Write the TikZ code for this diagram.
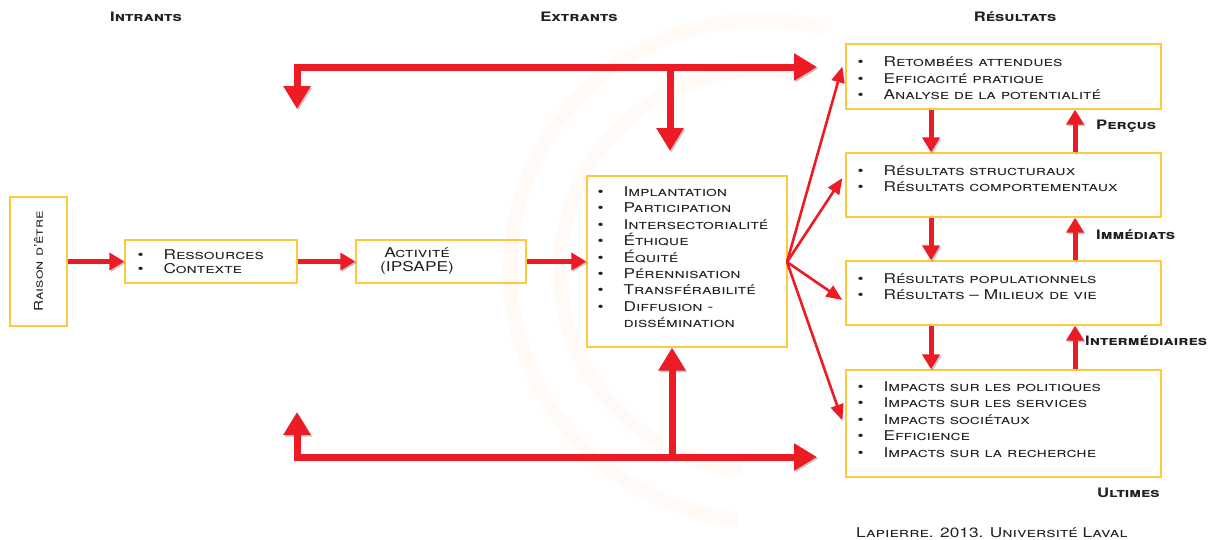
\documentclass[tikz,border=0pt]{standalone}
\usepackage{fontspec}
\setmainfont{TeX Gyre Heros}[FakeStretch=1.28]
\usepackage{tikz}
\usetikzlibrary{calc}
\usetikzlibrary{arrows.meta,positioning}

\definecolor{arrowred}{HTML}{ED1C24}
\definecolor{boxgold}{HTML}{FFC93C}
\definecolor{inkgray}{HTML}{231F20}
\definecolor{swirl}{HTML}{F7941D}
\newcommand{\blt}{\makebox[26pt][l]{\textbullet}}

\begin{document}
\begin{tikzpicture}[x=1pt, y=-1pt, >=Triangle, text=inkgray]
      \tikzstyle{box}=[draw=boxgold, line width=1.3pt, rectangle, inner sep=0pt]
      \tikzstyle{listtext}=[align=left, inner sep=0pt, font=\fontsize{13.5}{16.4}\selectfont\scshape]
      \tikzstyle{head}=[inner sep=0pt, font=\fontsize{13}{15}\selectfont\bfseries\scshape]
      \tikzstyle{shadowed}=[preaction={draw=black, opacity=0.22, transform canvas={shift={(1.5pt,-1.5pt)}}}]
      \tikzstyle{bigarrow}=[draw=arrowred, line width=7pt, -{Triangle[length=23pt,width=26pt]}, shadowed]
      \tikzstyle{midarrow}=[draw=arrowred, line width=5pt, -{Triangle[length=15pt,width=17pt]}, shadowed]
      \tikzstyle{fanarrow}=[draw=arrowred, line width=2.6pt, -{Triangle[length=16pt,width=13pt]}]
      \useasboundingbox (0,0) rectangle (1217,539);

      % filigrane
      \foreach \r in {200,250}
        \draw[swirl, opacity=0.045, line width=14pt] (760,270) ++(285:\r) arc[start angle=285, end angle=95, radius=\r];

      % colonnes
      \node[head] (intrants) at (146,17) {Intrants};
      \node[head] (extrants) at (579,17) {Extrants};
      \node[head] (resultats) at (1015,17) {Résultats};

      % chaine de gauche
      \node[box, minimum width=57pt, minimum height=129pt] (raison) at (38.5,261.5)
            {\rotatebox{90}{\fontsize{12}{14}\selectfont\scshape Raison d'être}};
      \node[box, minimum width=172pt, minimum height=43pt] (ressources) at (211,261.5) {};
      \node[listtext, anchor=north west, font=\fontsize{13.5}{14}\selectfont\scshape]
            (ressourcestext) at ($(ressources.north west)+(13,10)$) {\blt Ressources\\ \blt Contexte};
      \node[box, minimum width=170pt, minimum height=43pt] (activite) at (441,261.5) {};
      \node[align=center, inner sep=0pt, font=\fontsize{13.5}{14}\selectfont\scshape]
            (activitetext) at ($(activite.center)+(-24,0)$) {Activité\\(IPSAPE)};
      \node[box, minimum width=200pt, minimum height=171pt] (liste) at (687,261.5) {};
      \node[listtext, anchor=north west] (listetext) at ($(liste.north west)+(11,11)$)
            {\blt Implantation\\ \blt Participation\\ \blt Intersectorialité\\ \blt Éthique\\
             \blt Équité\\ \blt Pérennisation\\ \blt Transférabilité\\ \blt Diffusion -\\
             \hspace*{26pt}dissémination};

      % resultats
      \node[box, minimum width=315pt, minimum height=65pt] (R1) at (1003.5,76.5) {};
      \node[box, minimum width=315pt, minimum height=64pt] (R2) at (1003.5,185) {};
      \node[box, minimum width=315pt, minimum height=64pt] (R3) at (1003.5,293) {};
      \node[box, minimum width=315pt, minimum height=107pt] (R4) at (1003.5,423.5) {};
      \node[listtext, anchor=north west] (T1) at ($(R1.north west)+(12,13.5)$)
            {\blt Retombées attendues\\ \blt Efficacité pratique\\ \blt Analyse de la potentialité};
      \node[listtext, anchor=north west] (T2) at ($(R2.north west)+(12,13)$)
            {\blt Résultats structuraux\\ \blt Résultats comportementaux};
      \node[listtext, anchor=north west] (T3) at ($(R3.north west)+(12,13)$)
            {\blt Résultats populationnels\\ \blt Résultats -- Milieux de vie};
      \node[listtext, anchor=north west] (T4) at ($(R4.north west)+(12,12)$)
            {\blt Impacts sur les politiques\\ \blt Impacts sur les services\\ \blt Impacts sociétaux\\
             \blt Efficience\\ \blt Impacts sur la recherche};

      \node[head, anchor=west] (percus) at (1096,126) {Perçus};
      \node[head, anchor=west] (immediats) at (1096,235) {Immédiats};
      \node[head, anchor=west] (intermediaires) at (1085,341) {Intermédiaires};
      \node[head, anchor=west] (ultimes) at (1097,493) {Ultimes};
      \node[inner sep=0pt, anchor=west, font=\fontsize{13.5}{15}\selectfont\scshape]
            (source) at (856,533) {Lapierre. 2013. Université Laval};

      % boucles du haut et du bas
      \coordinate (topleft) at (297,67);
      \coordinate (topdrop) at (297,109);
      \coordinate (topend) at (817,67);
      \coordinate (topbranch) at (670,67);
      \coordinate (topbranchend) at (670,151);
      \coordinate (botleft) at (297,457);
      \coordinate (botrise) at (297,412);
      \coordinate (botend) at (817,457);
      \coordinate (botbranch) at (672,457);
      \coordinate (fan) at (787,262);

      \draw[bigarrow] (topbranch) -- (topbranchend);
      \draw[bigarrow, {Triangle[length=23pt,width=26pt]}-{Triangle[length=23pt,width=26pt]}]
            (topdrop) -- (topleft) -- (topend);
      \draw[bigarrow] (botbranch) -- (botbranch |- liste.south);
      \draw[bigarrow, {Triangle[length=23pt,width=26pt]}-{Triangle[length=23pt,width=26pt]}]
            (botrise) -- (botleft) -- (botend);

      \draw[midarrow] (raison) -- (ressources);
      \draw[midarrow] (ressources) -- (activite);
      \draw[midarrow] (activite) -- (activite -| liste.west);

      \draw[fanarrow] (fan) -- ($(R1.west)+(-3,-10)$);
      \draw[fanarrow] (fan) -- ($(R2.west)+(-3,-7)$);
      \draw[fanarrow] (fan) -- ($(R3.west)+(-3,7)$);
      \draw[fanarrow] (fan) -- ($(R4.west)+(-3,-3)$);

      \draw[midarrow] (R1.south -| 931,0) -- (R2.north -| 931,0);
      \draw[midarrow] (R2.south -| 931,0) -- (R3.north -| 931,0);
      \draw[midarrow] (R3.south -| 931,0) -- (R4.north -| 931,0);
      \draw[midarrow] (R2.north -| 1075,0) -- (R1.south -| 1075,0);
      \draw[midarrow] (R3.north -| 1075,0) -- (R2.south -| 1075,0);
      \draw[midarrow] (R4.north -| 1075,0) -- (R3.south -| 1075,0);
    \end{tikzpicture}
\end{document}
